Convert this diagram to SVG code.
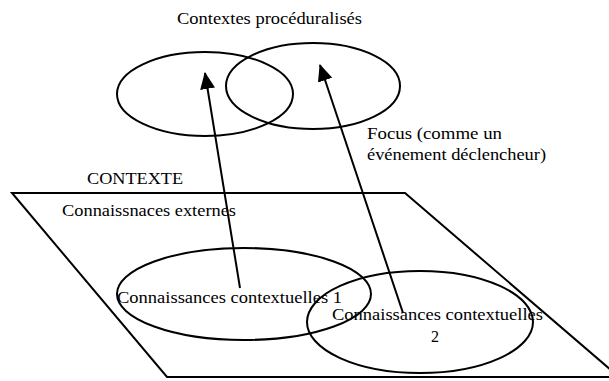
<svg xmlns="http://www.w3.org/2000/svg" width="609" height="381" viewBox="0 0 609 381">
<style>
.s{fill:none;stroke:#000;stroke-width:2}
.t{font-family:"Liberation Serif","Times New Roman",serif;font-size:16px;fill:#000}
.c{stroke:#000;stroke-width:2;fill:none}
</style>
<defs>
<marker id="ah" viewBox="0 0 17 15" refX="16" refY="7.5" markerWidth="8.5" markerHeight="7.5" markerUnits="strokeWidth" orient="auto">
<path d="M0,0 L17,7.5 L0,15 Z" fill="#000"/>
</marker>
</defs>
<rect width="609" height="381" fill="#fff"/>
<g id="contexte">
<path class="s" d="M12,193 L405,193 L619,377 L167,377 Z"/>
<text class="t" x="87" y="184" textLength="96" lengthAdjust="spacingAndGlyphs">CONTEXTE</text>
<text class="t" x="62" y="216" textLength="174" lengthAdjust="spacingAndGlyphs">Connaissnaces externes</text>
</g>
<g id="proc-left">
<ellipse class="s" cx="205" cy="94" rx="88" ry="42"/>
</g>
<g id="proc-right">
<ellipse class="s" cx="313" cy="86" rx="87" ry="43"/>
</g>
<g id="proc-label">
<text class="t" x="177" y="24" textLength="185" lengthAdjust="spacingAndGlyphs">Contextes procéduralisés</text>
</g>
<g id="ctx1">
<ellipse class="s" cx="244" cy="294" rx="127" ry="46"/>
<text class="t" x="117" y="303" textLength="225" lengthAdjust="spacingAndGlyphs">Connaissances contextuelles 1</text>
</g>
<g id="ctx2">
<ellipse class="s" cx="420" cy="322" rx="113" ry="51"/>
<text class="t" x="332" y="320" textLength="211" lengthAdjust="spacingAndGlyphs">Connaissances contextuelles</text>
<text class="t" x="435" y="342" text-anchor="middle">2</text>
</g>
<g id="focus">
<text class="t" x="367" y="139" textLength="135" lengthAdjust="spacingAndGlyphs">Focus (comme un</text>
<text class="t" x="367" y="160" textLength="179" lengthAdjust="spacingAndGlyphs">événement déclencheur)</text>
</g>
<g id="connectors">
<line class="c" x1="240" y1="288" x2="205" y2="73" marker-end="url(#ah)"/>
<line class="c" x1="403" y1="313" x2="320" y2="65" marker-end="url(#ah)"/>
</g>
</svg>
